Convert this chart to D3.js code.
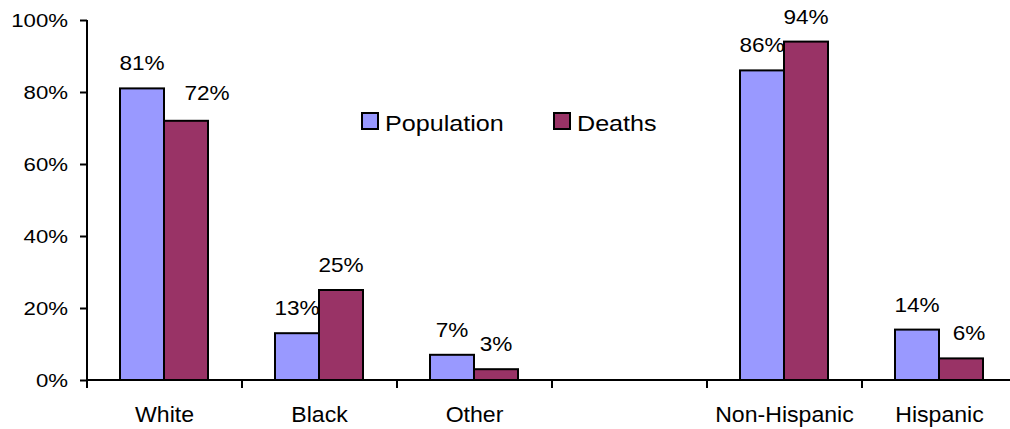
<!DOCTYPE html>
<html>
<head>
<meta charset="utf-8">
<script src="https://cdn.jsdelivr.net/npm/d3@7"></script>
<style>
  html, body { margin: 0; padding: 0; background: #fff; }
  svg { display: block; }
  text { font-family: "Liberation Sans", Arial, sans-serif; fill: #000; }
</style>
</head>
<body>
<svg id="chart" width="1010" height="429"></svg>
<script>
// Share of population vs share of deaths, by race and by ethnicity
const categories = ["White", "Black", "Other", " ", "Non-Hispanic", "Hispanic"];
const seriesNames = ["Population", "Deaths"];
const population = [81, 13, 7, null, 86, 14];
const deaths = [72, 25, 3, null, 94, 6];
const yTicks = [0, 20, 40, 60, 80, 100];
const colors = ["#9999FF", "#993366"];

const svg = d3.select("#chart");
const plotLeft = 87, plotRight = 1017, plotTop = 20, plotBottom = 380;

// Font size and horizontal stretch per text role
const fonts = {
  yTick: [18.5, 1.2],
  value: [20, 1.13],
  category: [22, 1.05],
  legend: [21.5, 1.17]
};

const x = d3.scaleBand().domain(categories).range([plotLeft, plotRight]).padding(0);
const x1 = d3.scaleBand().domain(seriesNames).range([33, 121]).padding(0);
const y = d3.scaleLinear().domain([0, 100]).range([plotBottom, plotTop]);

function label(g, str, px, py, anchor, role) {
  const [size, sx] = fonts[role];
  return g.append("text")
    .attr("transform", `translate(${px},${py}) scale(${sx},1)`)
    .attr("text-anchor", anchor)
    .style("font-size", size + "px")
    .text(str);
}

const rows = categories.map((c, i) => ({ cat: c, values: [population[i], deaths[i]] }));

// Bars
const groups = svg.append("g").selectAll("g")
  .data(rows.filter(r => r.values[0] != null))
  .join("g")
  .attr("transform", d => `translate(${x(d.cat)},0)`);

groups.selectAll("rect")
  .data(d => d.values.map((v, j) => ({ key: seriesNames[j], v, j })))
  .join("rect")
  .attr("x", d => x1(d.key))
  .attr("y", d => y(d.v))
  .attr("width", x1.bandwidth())
  .attr("height", d => y(0) - y(d.v))
  .attr("fill", d => colors[d.j])
  .attr("stroke", "#000")
  .attr("stroke-width", 2);

// Value labels (a couple nudged sideways as placed in the source chart)
const nudge = { "White|Deaths": [21, -3], "Hispanic|Deaths": [8, 0] };
groups.each(function (d) {
  const g = d3.select(this);
  d.values.forEach((v, j) => {
    const n = nudge[d.cat + "|" + seriesNames[j]] || [0, 0];
    label(g, v + "%", x1(seriesNames[j]) + x1.bandwidth() / 2 + n[0], y(v) - 18 + n[1], "middle", "value");
  });
});

// Y axis
const yAxis = svg.append("g").attr("transform", `translate(${plotLeft},0)`)
  .call(d3.axisLeft(y).tickValues(yTicks).tickSize(7).tickFormat(d => d + "%"));
yAxis.select(".domain").attr("stroke-width", 2).attr("d", `M0,${plotTop}V${plotBottom}`);
yAxis.selectAll(".tick line").attr("stroke-width", 2);
yAxis.selectAll(".tick text").remove();
yTicks.forEach(t => label(svg, t + "%", 68, y(t) + 7, "end", "yTick"));

// X axis
const xAxis = svg.append("g").attr("transform", `translate(0,${plotBottom})`);
xAxis.append("line").attr("x1", plotLeft).attr("x2", plotRight).attr("stroke", "#000").attr("stroke-width", 2);
xAxis.selectAll("line.tick")
  .data(categories.map(c => x(c)).concat([plotRight]))
  .join("line").attr("class", "tick")
  .attr("x1", d => d).attr("x2", d => d).attr("y1", 0).attr("y2", 8)
  .attr("stroke", "#000").attr("stroke-width", 2);
categories.forEach(c => {
  if (c.trim()) label(svg, c, x(c) + x.bandwidth() / 2, 422, "middle", "category");
});

// Legend
const legend = svg.append("g");
const legendX = [362, 554];
seriesNames.forEach((s, i) => {
  legend.append("rect").attr("x", legendX[i]).attr("y", 113).attr("width", 16).attr("height", 16)
    .attr("fill", colors[i]).attr("stroke", "#000").attr("stroke-width", 2);
  label(legend, s, legendX[i] + 23, 130.5, "start", "legend");
});
</script>
</body>
</html>
